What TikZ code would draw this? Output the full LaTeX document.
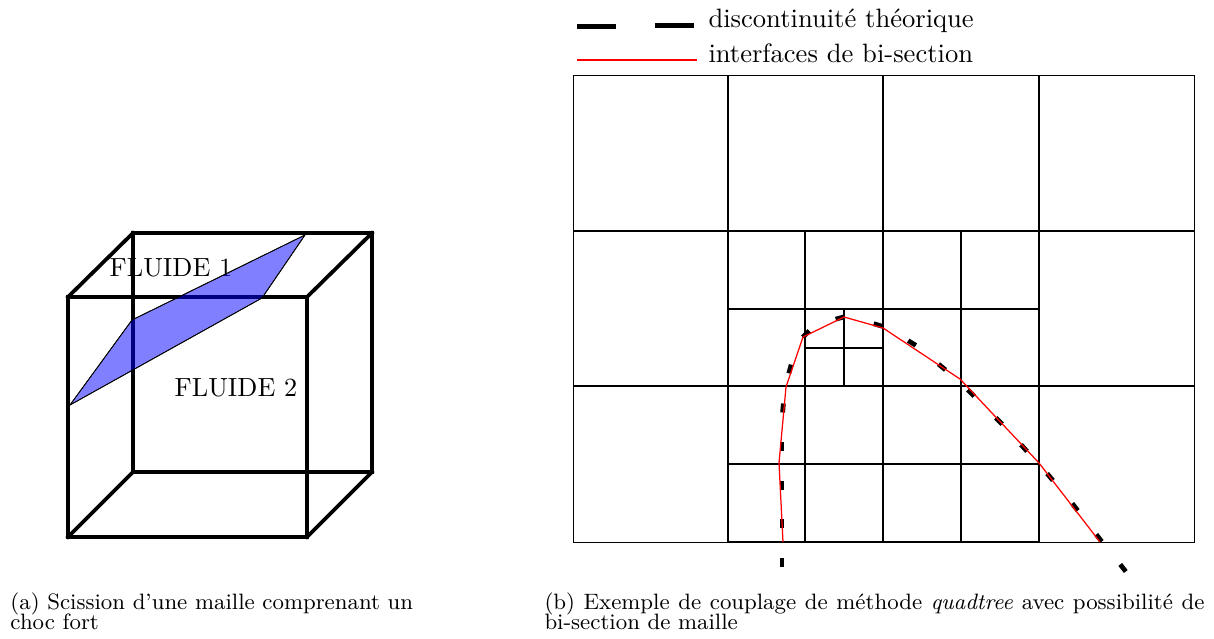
\documentclass[tikz,border=0pt]{standalone}
\usepackage{amsmath}
\tikzset{
  px/.style={x=0.4pt,y=-0.4pt},
  cubefront/.style={line width=1.95pt,line join=miter,line cap=rect},
  cubeback/.style={line width=1.5pt,line join=miter,line cap=rect},
  plane/.style={draw=black,line width=0.3pt,fill=blue,fill opacity=0.5},
  gridouter/.style={line width=0.4pt},
  gridthin/.style={line width=0.5pt},
  gridmain/.style={line width=0.55pt},
  gridheavy/.style={line width=0.85pt},
  redline/.style={red,line width=0.5pt},
  dashmark/.style={line width=1.9pt},
  legdash/.style={line width=2pt},
  label/.style={inner sep=0pt,font=\fontsize{10.5}{12}\selectfont},
  legtxt/.style={inner sep=0pt,anchor=base west,font=\fontsize{10.63}{12}\selectfont},
  captxt/.style={inner sep=0pt,anchor=base west,font=\fontsize{8.9}{10}\selectfont},
}
\begin{document}
\begin{tikzpicture}[px]
\useasboundingbox (0,0) rectangle (1214,639);
% cube
\draw[cubeback] (133,233) rectangle (372,472);
\draw[cubeback] (68,297) -- (133,233) (307,297) -- (372,233) (68,537) -- (133,472) (307,537) -- (372,472);
\draw[cubefront] (68,297) rectangle (307,537);
\node[label] (f1) at (171,268) {FLUIDE 1};
\node[label] (f2) at (236,388) {FLUIDE 2};
\fill[plane] (70,405) -- (132,320) -- (305,235) -- (262,298) -- cycle;
\draw[plane,fill=none] (70,405) -- (132,320) -- (305,235) -- (262,298) -- cycle;
% quadtree grid
\draw[gridouter] (573,76) rectangle (1194,542);
\draw[gridmain] (728,76) -- (728,542) (883,76) -- (883,542) (1039,76) -- (1039,542);
\draw[gridmain] (573,231) -- (1194,231) (573,386) -- (1194,386);
\draw[gridmain] (728,542) -- (1039,542);
\draw[gridthin] (805,231) -- (805,542) (961,231) -- (961,542);
\draw[gridthin] (728,309) -- (1039,309) (728,464) -- (1039,464);
\draw[gridthin] (844,309) -- (844,386) (805,348) -- (883,348);
\draw[gridheavy] (728,231) -- (728,542) (883,231) -- (883,542) (728,386) -- (1039,386);
% theoretical discontinuity
\foreach \x/\y/\a in {782/562/90,782/523/90,782/485/90,782/446/90,783/408/95,790/369/105,806/334/135,840/318/165,878/325/17,912/343/32,942/367/40,971/393/45,999/421/45,1024/448/48,1050/477/50,1075/507/52,1099/538/52,1123/568/52}
  \draw[dashmark] (\x,\y) ++(\a:4.5) -- ++(\a+180:9);
% bisection interfaces
\draw[redline] (783,542) -- (779,463) -- (786,387) -- (803,337) -- (844,317) -- (883,328) -- (960,379) -- (1039,463) -- (1100,542);
% legend
\coordinate (la) at (577,27);
\coordinate (lb) at (616,27);
\coordinate (lc) at (655,26);
\coordinate (ld) at (694,26);
\coordinate (le) at (577,60);
\coordinate (lf) at (697,60);
\draw[legdash] (la) -- (lb);
\draw[legdash] (lc) -- (ld);
\draw[redline] (le) -- (lf);
\node[legtxt] (l1) at (708,28) {discontinuit\'e th\'eorique};
\node[legtxt] (l2) at (708,62.5) {interfaces de bi-section};
% captions
\node[captxt] (ca1) at (10,609) {(a) Scission d'une maille comprenant un};
\node[captxt] (ca2) at (10,629) {choc fort};
\node[captxt] (cb1) at (544,609) {\hbox to 264pt{(b) Exemple de couplage de m\'ethode \textit{quadtree} avec possibilit\'e de}};
\node[captxt] (cb2) at (544,629) {bi-section de maille};
\end{tikzpicture}
\end{document}
